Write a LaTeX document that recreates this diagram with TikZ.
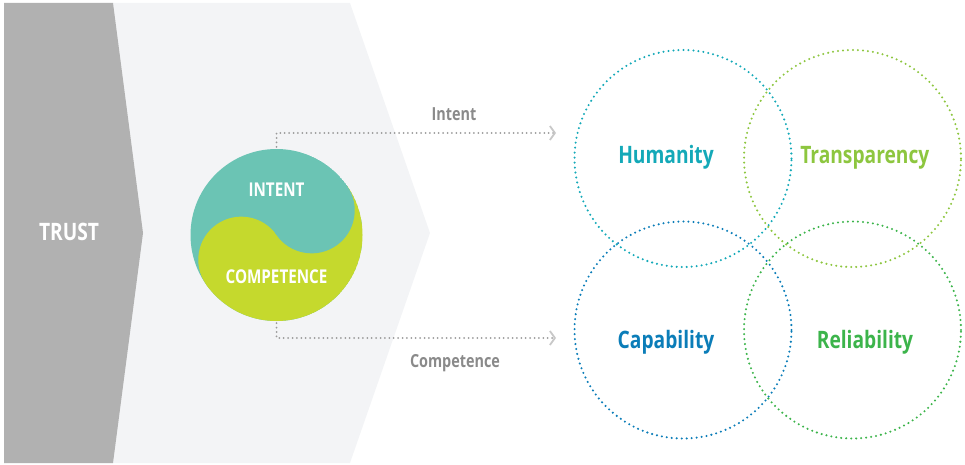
\documentclass[tikz,border=0pt]{standalone}
\usepackage{fontspec}
\setmainfont{Open Sans}[FakeStretch=0.8]
\usetikzlibrary{arrows.meta}

\definecolor{trustgray}{HTML}{B1B1B1}
\definecolor{panelgray}{HTML}{F3F4F6}
\definecolor{intentcol}{HTML}{6BC4B4}
\definecolor{competcol}{HTML}{C5D92D}
\definecolor{dotgray}{HTML}{9A9A9A}
\definecolor{tipgray}{HTML}{C8C8C8}
\definecolor{labelgray}{HTML}{8A8A8A}
\definecolor{humcol}{HTML}{14A9B8}
\definecolor{tracol}{HTML}{8DC63F}
\definecolor{capcol}{HTML}{0B7DB8}
\definecolor{relcol}{HTML}{3CB44B}

\begin{document}
\begin{tikzpicture}[x=1pt,y=1pt,
    bigcaps/.style={anchor=base,text=white,font={\bfseries\fontsize{24}{24}\selectfont}},
    yycaps/.style={anchor=base,text=white,font={\bfseries\fontsize{19}{19}\selectfont}},
    flowlabel/.style={anchor=base,text=labelgray,font={\bfseries\fontsize{18}{18}\selectfont}},
    venntext/.style={anchor=base,font={\bfseries\fontsize{24}{24}\selectfont}},
    venn/.style={circle,minimum size=217pt,inner sep=0pt,outer sep=0pt,
        line width=2.3pt,line cap=round,dash pattern=on 0pt off 5pt},
    flow/.style={draw=dotgray,line width=2pt,line cap=round,
        dash pattern=on 0pt off 4.4pt,
        -{Straight Barb[length=5pt,width=14pt,line width=1.8pt,color=tipgray]}}]
\useasboundingbox (0,0) rectangle (965,464);

% chevrons
\fill[panelgray] (100,461)--(350,461)--(430,231)--(350,1)--(100,1)--cycle;
\fill[trustgray] (4,461)--(113,461)--(143,231)--(113,1)--(4,1)--cycle;
\node[bigcaps] (trust) at (69,223.4) {TRUST};

% yin-yang
\node[circle,minimum size=172pt,inner sep=0pt] (yy) at (276.5,229) {};
\begin{scope}
\clip (yy.center) circle(86);
\fill[intentcol] (yy.center) circle(86);
\begin{scope}[shift={(yy.center)},rotate=35]
\fill[competcol] (-90,-90) rectangle (90,0);
\fill[competcol] (-43,0) circle(43);
\fill[intentcol] (43,0) circle(43);
\end{scope}
\end{scope}
\node[yycaps] (intent) at (276.5,267.2) {INTENT};
\node[yycaps] (compet) at (276.5,180.2) {COMPETENCE};

% venn circles
\node[venn,draw=humcol] (hum) at (683,305.5) {};
\node[venn,draw=tracol] (tra) at (852.5,305.5) {};
\node[venn,draw=capcol] (cap) at (683,134) {};
\node[venn,draw=relcol] (rel) at (852.5,134) {};
\node[venntext,text=humcol] (humtext) at ([xshift=-17,yshift=-5.1]hum.center) {Humanity};
\node[venntext,text=tracol] (tratext) at ([xshift=12.3,yshift=-5.1]tra.center) {Transparency};
\node[venntext,text=capcol] (captext) at ([xshift=-17,yshift=-18.1]cap.center) {Capability};
\node[venntext,text=relcol] (reltext) at ([xshift=12.5,yshift=-18.1]rel.center) {Reliability};

% dotted arrows
\coordinate (intentend) at (556,331);
\coordinate (competend) at (556,126);
\draw[flow] ([yshift=2]yy.north) |- (intentend);
\draw[flow] ([yshift=-2]yy.south) |- (competend);
\node[flowlabel] (intentlabel) at (454,343) {Intent};
\node[flowlabel] (competlabel) at (455,96.5) {Competence};
\end{tikzpicture}
\end{document}
